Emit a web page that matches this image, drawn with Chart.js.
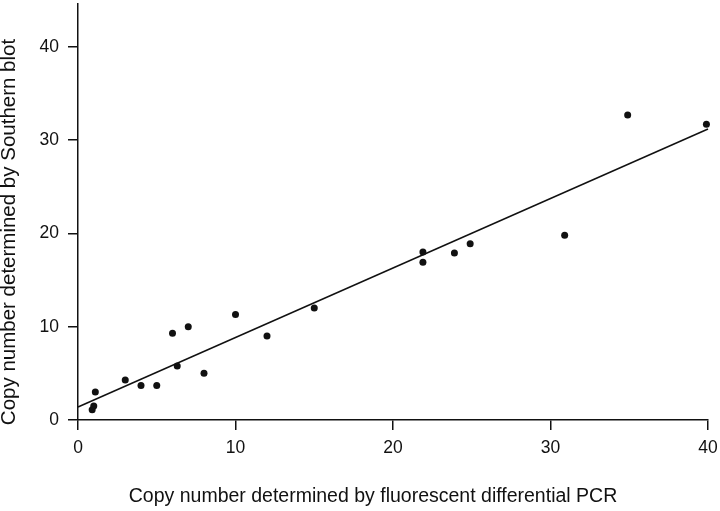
<!DOCTYPE html>
<html>
<head>
<meta charset="utf-8">
<script src="https://cdn.jsdelivr.net/npm/chart.js@4/dist/chart.umd.min.js"></script>
<style>
  html, body { margin: 0; padding: 0; background: #fff; }
  #wrap { width: 720px; height: 511px; }
</style>
</head>
<body>
<div id="wrap"><canvas id="graf" width="720" height="511"></canvas></div>
<script>
// copy number per sample: PCR (x) vs Southern blot (y)
const pcrCopies =      [0.9, 1.0, 1.1, 3.0, 4.0, 5.0, 6.0, 6.3, 7.0, 8.0, 10.0, 12.0, 15.0, 21.9, 21.9, 23.9, 24.9, 30.9, 34.9, 39.9];
const southernCopies = [1.1, 1.5, 3.0, 4.3, 3.7, 3.7, 9.3, 5.8, 10.0, 5.0, 11.3, 9.0, 12.0, 18.0, 16.9, 17.9, 18.9, 19.8, 32.7, 31.7];

// fitted line, two end points
const fitX = [0, 40];
const fitY = [1.4, 31.2];

const xTicks = [0, 10, 20, 30, 40];
const yTicks = [0, 10, 20, 30, 40];

const xTitle = 'Copy number determined by fluorescent differential PCR';
const yTitle = 'Copy number determined by Southern blot';

const pismo = '"Liberation Sans", Arial, Helvetica, sans-serif';
const cerna = '#111';

const bodyData = pcrCopies.map((x, i) => ({ x: x, y: southernCopies[i] }));
const primka = fitX.map((x, i) => ({ x: x, y: fitY[i] }));

// popisky os kreslime sami, at sedi pozice
const popiskyOs = {
  id: 'popiskyOs',
  afterDraw(chart) {
    const c = chart.ctx;
    c.save();
    c.fillStyle = cerna;
    c.textAlign = 'center';
    c.textBaseline = 'alphabetic';
    c.font = '19.5px ' + pismo;
    c.fillText(xTitle, 373, 502);
    c.font = '20.5px ' + pismo;
    c.translate(15, 232);
    c.rotate(-Math.PI / 2);
    c.fillText(yTitle, 0, 0);
    c.restore();
  }
};

var options = {
  animation: false,
  responsive: false,
  devicePixelRatio: 1,
  layout: { autoPadding: false, padding: { top: 4, right: 12, left: 0, bottom: 0 } },
  plugins: {
    legend: { display: false },
    tooltip: { enabled: false }
  },
  scales: {
    x: {
      type: 'linear',
      min: 0,
      max: 40,
      afterFit: (s) => { s.height = 91; s.paddingLeft = 0; s.paddingRight = 0; },
      afterBuildTicks: (s) => { s.ticks = xTicks.map(v => ({ value: v })); },
      ticks: { color: cerna, font: { family: pismo, size: 17.5 }, padding: 8, maxRotation: 0 },
      grid: { drawOnChartArea: false, drawTicks: true, tickLength: 10, color: cerna, lineWidth: 1.5 },
      border: { display: true, color: cerna, width: 1.5 }
    },
    y: {
      type: 'linear',
      min: 0,
      max: 44.6,
      afterFit: (s) => { s.width = 78; s.paddingTop = 0; s.paddingBottom = 0; },
      afterBuildTicks: (s) => { s.ticks = yTicks.map(v => ({ value: v })); },
      ticks: { color: cerna, font: { family: pismo, size: 17.5 }, padding: 9 },
      grid: { drawOnChartArea: false, drawTicks: true, tickLength: 10, color: cerna, lineWidth: 1.5 },
      border: { display: true, color: cerna, width: 1.5 }
    }
  }
};

const config = {
  type: 'scatter',
  data: {
    datasets: [
      {
        label: 'samples',
        data: bodyData,
        backgroundColor: cerna,
        borderColor: cerna,
        pointRadius: 3.5,
        pointBorderWidth: 0,
        clip: false
      },
      {
        type: 'line',
        label: 'fit',
        data: primka,
        borderColor: cerna,
        borderWidth: 1.5,
        pointRadius: 0,
        fill: false,
        clip: false
      }
    ]
  },
  options,
  plugins: [popiskyOs]
};

const ctx = document.getElementById('graf').getContext('2d');
const myChart = new Chart(ctx, config);
</script>
</body>
</html>
